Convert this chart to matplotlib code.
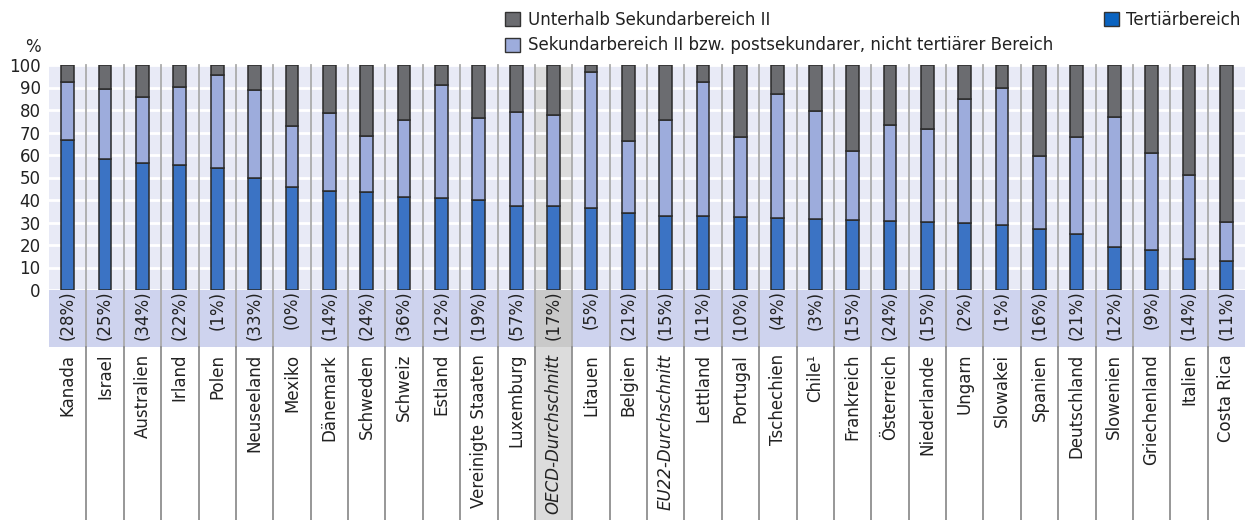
import matplotlib
matplotlib.use("Agg")
import matplotlib.pyplot as plt
from matplotlib.patches import Rectangle, Patch
from matplotlib.transforms import blended_transform_factory

plt.rcParams['font.family'] = ['DejaVu Sans']

countries = ["Kanada", "Israel", "Australien", "Irland", "Polen", "Neuseeland", "Mexiko",
             "Dänemark", "Schweden", "Schweiz", "Estland", "Vereinigte Staaten", "Luxemburg",
             "OECD-Durchschnitt", "Litauen", "Belgien", "EU22-Durchschnitt", "Lettland",
             "Portugal", "Tschechien", "Chile¹", "Frankreich", "Österreich", "Niederlande",
             "Ungarn", "Slowakei", "Spanien", "Deutschland", "Slowenien", "Griechenland",
             "Italien", "Costa Rica"]
shares = [28, 25, 34, 22, 1, 33, 0, 14, 24, 36, 12, 19, 57, 17, 5, 21, 15, 11, 10, 4, 3,
          15, 24, 15, 2, 1, 16, 21, 12, 9, 14, 11]
tertiary = [66.7, 58.2, 56.6, 55.4, 54.4, 49.8, 45.8, 44.1, 43.5, 41.3, 40.9, 40.1, 37.4,
            37.3, 36.6, 34.2, 33.0, 32.8, 32.5, 31.9, 31.4, 30.9, 30.8, 30.2, 29.9, 28.7,
            27.0, 24.7, 19.2, 18.0, 13.7, 12.8]
secondary = [25.6, 31.1, 29.3, 34.9, 41.0, 39.2, 27.2, 34.7, 25.0, 34.3, 50.3, 36.4, 41.8,
             40.4, 60.1, 32.1, 42.6, 59.5, 35.7, 55.2, 48.2, 30.9, 42.5, 41.3, 55.1, 61.3,
             32.4, 43.2, 57.6, 42.9, 37.4, 17.4]
below = [7.7, 10.7, 14.1, 9.7, 4.6, 11.0, 27.0, 21.2, 31.5, 24.4, 8.8, 23.5, 20.8, 22.3,
         3.3, 33.7, 24.4, 7.7, 31.8, 12.9, 20.4, 38.2, 26.7, 28.5, 15.0, 10.0, 40.6, 32.1,
         23.2, 39.1, 48.9, 69.8]
yticks = [0, 10, 20, 30, 40, 50, 60, 70, 80, 90, 100]
italic_labels = ["OECD-Durchschnitt", "EU22-Durchschnitt"]
highlight = "OECD-Durchschnitt"

c_below = "#6b6c70"
c_sec = "#9dacdc"
c_ter = "#3b73c4"
c_ter_leg = "#0a63c0"
bg = "#e8eaf6"
band_c = "#ced3ee"
edge = "#2a2a2a"

W, H = 1250, 520
fig = plt.figure(figsize=(W / 100, H / 100), dpi=100)
ax = fig.add_axes([49 / W, 1 - 290 / H, (1245 - 49) / W, 225 / H])
ax.set_facecolor(bg)
n = len(countries)
x = list(range(n))
ax.set_xlim(-0.5, n - 0.5)
ax.set_ylim(0, 100)
for s in ax.spines.values():
    s.set_visible(False)
ax.set_xticks([])
ax.set_yticks(yticks)
ax.tick_params(axis='y', length=0, pad=6, labelsize=12, labelcolor="#222222")
ax.yaxis.grid(True, color="white", lw=2)
ax.set_axisbelow(True)

tr = blended_transform_factory(ax.transData, ax.transAxes)
band_h = 57 / 225
bottom = -(230 / 225)

hi = countries.index(highlight)
ax.add_patch(Rectangle((hi - 0.5, bottom), 1, 1 - bottom, transform=tr, color="#dcdcdc",
                       zorder=0.3, clip_on=False, lw=0))
ax.add_patch(Rectangle((-0.5, -band_h), n, band_h, transform=tr, color=band_c,
                       zorder=0.4, clip_on=False, lw=0))
ax.add_patch(Rectangle((hi - 0.5, -band_h), 1, band_h, transform=tr, color="#c9c9c9",
                       zorder=0.45, clip_on=False, lw=0))
for i in range(n - 1):
    ax.plot([i + 0.5, i + 0.5], [1, -band_h], transform=tr, color="#ababab", lw=1.3,
            clip_on=False, zorder=0.6)
    ax.plot([i + 0.5, i + 0.5], [-band_h, bottom], transform=tr, color="#8f8f8f", lw=1.3,
            clip_on=False, zorder=0.6)

bw = 0.34
bs = [t + s for t, s in zip(tertiary, secondary)]
ax.bar(x, tertiary, bw, color=c_ter, edgecolor=edge, lw=1.1, zorder=2)
ax.bar(x, secondary, bw, bottom=tertiary, color=c_sec, edgecolor=edge, lw=1.1, zorder=2)
ax.bar(x, below, bw, bottom=bs, color=c_below, edgecolor=edge, lw=1.1, zorder=2)

for i, (c, p) in enumerate(zip(countries, shares)):
    ax.text(i, -0.002, f"({p}%)", transform=tr, rotation=90, ha='center', va='top',
            fontsize=12, color="#222222")
    ax.text(i, -0.284, c, transform=tr, rotation=90, ha='center', va='top', fontsize=12,
            color="#222222", style='italic' if c in italic_labels else 'normal')

fig.text(33 / W, 1 - 47 / H, "%", ha='center', va='center', fontsize=12, color="#222222")

h_below = Patch(facecolor=c_below, edgecolor="#333333", lw=1)
h_sec = Patch(facecolor=c_sec, edgecolor="#333333", lw=1)
h_ter = Patch(facecolor=c_ter_leg, edgecolor="#333333", lw=1)
leg_kw = dict(loc='upper left', frameon=False, fontsize=12, handlelength=0.9,
              handleheight=0.9, handletextpad=0.45, labelspacing=0.45, borderpad=0,
              borderaxespad=0)
leg1 = fig.legend([h_below, h_sec], ["Unterhalb Sekundarbereich II",
                  "Sekundarbereich II bzw. postsekundarer, nicht tertiärer Bereich"],
                  bbox_to_anchor=(505 / W, 1 - 11 / H), **leg_kw)
for t in leg1.get_texts():
    t.set_color("#222222")
leg2 = fig.legend([h_ter], ["Tertiärbereich"], bbox_to_anchor=(1104 / W, 1 - 11 / H), **leg_kw)
for t in leg2.get_texts():
    t.set_color("#222222")

fig.savefig("out.png", dpi=100)
